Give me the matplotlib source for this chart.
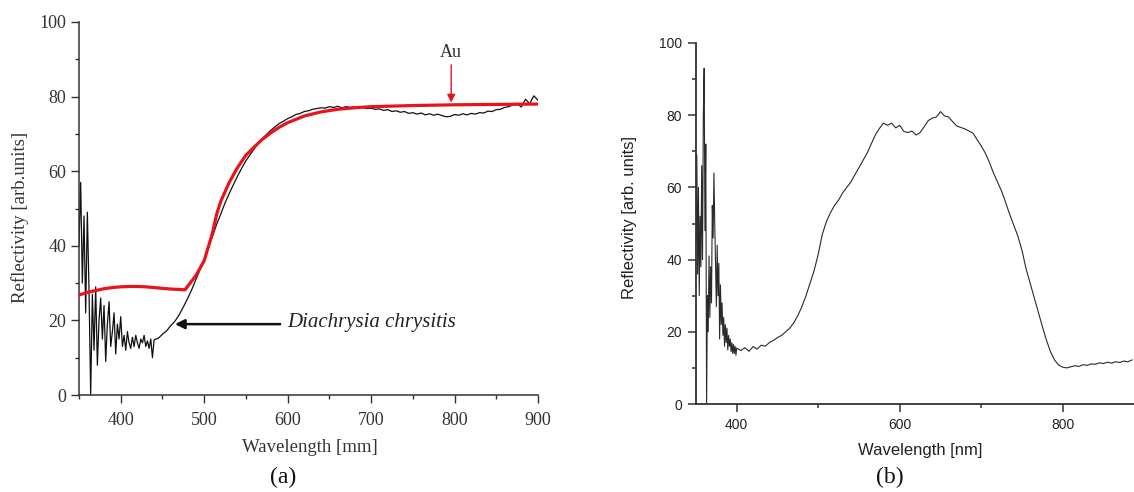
import numpy as np
import matplotlib
matplotlib.use("Agg")
import matplotlib.pyplot as plt
from matplotlib.ticker import MultipleLocator

# ---------------- panel (a): Diachrysia chrysitis wing vs. gold ----------------
wl_dc_fine = np.arange(350, 441, 2)
refl_dc_fine = [
    40, 57, 30, 48, 22, 49, 28, 0, 27, 12,
    29, 8, 20, 26, 15, 24, 9, 19, 25, 13,
    17, 22, 11, 19, 15, 21, 13, 16, 12, 17,
    14, 12.5, 15.5, 13, 16, 14, 12.5, 15, 14, 16,
    13, 14.5, 12.5, 15, 10, 14.8,
]
wl_dc_coarse = np.arange(445, 901, 5)
refl_dc_coarse = [
    15.2, 16.3, 17.2, 18.6, 19.8, 21.5, 23.6, 25.8, 28.2, 30.9,
    33.6, 36.5, 39.6, 42.5, 45.8, 48.6, 51.5, 54.0, 56.4, 58.7,
    60.8, 62.8, 64.4, 66.0, 67.5, 68.8, 69.9, 71.0, 71.9, 72.8,
    73.4, 74.1, 74.6, 75.2, 75.5, 76.0, 76.2, 76.6, 76.8, 77.0,
    76.9, 77.3, 77.1, 77.4, 77.0, 77.3, 77.1, 77.2, 76.9, 77.1,
    76.8, 76.9, 76.6, 76.7, 76.3, 76.5, 76.0, 76.2, 75.8, 76.0,
    75.5, 75.7, 75.3, 75.6, 75.1, 75.4, 75.0, 75.3, 74.9, 74.6,
    74.7, 75.2, 75.0, 75.4, 75.1, 75.5, 75.3, 75.7, 75.6, 76.1,
    76.0, 76.5, 76.6, 77.1, 77.3, 77.8, 78.2, 77.2, 79.3, 78.1,
    80.2, 79.0,
]
wl_au = [350, 360, 370, 380, 390, 400, 410, 420, 430, 440, 450, 460, 470, 477,
         490, 500, 510, 515, 520, 530, 540, 550, 560, 570, 580, 590, 600, 620,
         640, 660, 680, 700, 750, 800, 850, 900]
refl_au = [26.8, 27.5, 28.0, 28.5, 28.8, 29.0, 29.1, 29.1, 29.0, 28.8, 28.6, 28.4,
           28.3, 28.2, 32.0, 36.0, 43.5, 48.5, 52.0, 57.0, 61.0, 64.3, 66.5, 68.6,
           70.3, 71.8, 73.0, 74.8, 75.9, 76.6, 77.0, 77.3, 77.6, 77.8, 77.9, 78.0]

# ---------------- panel (b): reflectivity spectrum ----------------
wl_b_fine = np.arange(350, 401, 1)
refl_b_fine = [
    45, 69, 36, 60, 30, 52, 38, 66, 40, 80,
    93, 48, 72, 0, 30, 20, 41, 24, 38, 28,
    55, 46, 64, 50, 38, 27, 44, 30, 39, 18,
    33, 22, 28, 19, 24, 16, 22, 17, 21, 15,
    19, 16, 18, 14.5, 17, 14, 16.5, 14, 16, 13.5,
    15.5,
]
wl_b_coarse = np.arange(405, 886, 5)
refl_b_coarse = [
    14.8, 15.6, 14.6, 15.9, 15.2, 16.3, 16.0, 17.0, 17.6, 18.4,
    19.0, 20.0, 21.0, 22.5, 24.5, 27.0, 30.0, 33.5, 37.0, 41.5,
    47.0, 50.5, 53.0, 55.0, 56.5, 58.5, 60.0, 61.5, 63.5, 65.5,
    67.5, 69.5, 72.0, 74.5, 76.3, 77.8, 77.2, 77.8, 76.5, 77.2,
    75.5, 75.2, 75.6, 74.5, 75.2, 76.8, 78.5, 79.2, 79.5, 81.0,
    79.8, 79.5, 78.2, 77.0, 76.6, 76.2, 75.6, 75.0, 73.2, 71.5,
    69.5, 67.0, 64.0, 61.5, 59.0, 55.8, 52.5, 49.5, 46.5, 42.6,
    37.5, 33.5, 29.5, 25.5, 21.5, 17.7, 14.5, 12.2, 10.8, 10.2,
    10.0, 10.3, 10.6, 10.4, 10.9, 10.7, 11.1, 11.0, 11.4, 11.2,
    11.6, 11.3, 11.7, 11.5, 11.9, 11.7, 12.2,
]

SERIF = "Liberation Serif"
SANS = "Liberation Sans"

fig = plt.figure(figsize=(11.34, 4.92), dpi=100)

# ---------- panel (a) ----------
axa = fig.add_axes([79 / 1134, 97 / 492, 459 / 1134, 373 / 492])
wl_dc = np.concatenate([wl_dc_fine, wl_dc_coarse])
refl_dc = np.concatenate([refl_dc_fine, refl_dc_coarse])
axa.plot(wl_dc, refl_dc, color="#111111", lw=0.9, zorder=2)
axa.plot(wl_au, refl_au, color="#e8141c", lw=2.3, zorder=3)
axa.set_xlim(350, 900)
axa.set_ylim(0, 100)
axa.xaxis.set_major_locator(MultipleLocator(100))
axa.xaxis.set_minor_locator(MultipleLocator(50))
axa.yaxis.set_major_locator(MultipleLocator(20))
axa.yaxis.set_minor_locator(MultipleLocator(10))
for s in ("top", "right"):
    axa.spines[s].set_visible(False)
for s in ("left", "bottom"):
    axa.spines[s].set_color("#333333")
    axa.spines[s].set_linewidth(1.1)
axa.tick_params(which="major", direction="out", length=6, width=1.0,
                color="#333333", labelsize=13, labelcolor="#333333", pad=3)
axa.tick_params(which="minor", direction="out", length=3, width=1.0, color="#333333")
axa.tick_params(axis="x", which="major", pad=6)
for lab in axa.get_xticklabels() + axa.get_yticklabels():
    lab.set_fontfamily(SERIF)
axa.set_xlabel("Wavelength [mm]", fontfamily=SERIF, fontsize=13.5,
               color="#333333", va="center")
axa.xaxis.set_label_coords(0.502, -0.142)
axa.set_ylabel("Reflectivity [arb.units]", fontfamily=SERIF, fontsize=13.5,
               color="#333333", va="center")
axa.yaxis.set_label_coords(-0.128, 0.477)

axa.annotate("", xy=(796, 78.4), xytext=(796, 88.5),
             arrowprops=dict(arrowstyle="-|>", color="#e8141c", lw=1.0,
                             mutation_scale=12, shrinkA=0, shrinkB=0))
axa.text(796, 91.7, "Au", ha="center", va="center", fontfamily=SERIF,
         fontsize=13, color="#333333")
axa.annotate("", xy=(465, 19), xytext=(591, 19),
             arrowprops=dict(arrowstyle="-|>", color="#111111", lw=1.8,
                             mutation_scale=14, shrinkA=0, shrinkB=0))
axa.text(600, 19.5, "Diachrysia chrysitis", ha="left", va="center",
         fontfamily=SERIF, fontstyle="italic", fontsize=15, color="#222222")

# ---------- panel (b) ----------
axb = fig.add_axes([696 / 1134, 88 / 492, 438 / 1134, 361 / 492])
wl_b = np.concatenate([wl_b_fine, wl_b_coarse])
refl_b = np.concatenate([refl_b_fine, refl_b_coarse])
axb.plot(wl_b, refl_b, color="#2a2a2a", lw=0.8)
axb.set_xlim(350, 887.5)
axb.set_ylim(0, 100)
axb.xaxis.set_major_locator(MultipleLocator(200))
axb.xaxis.set_minor_locator(MultipleLocator(100))
axb.yaxis.set_major_locator(MultipleLocator(20))
axb.yaxis.set_minor_locator(MultipleLocator(10))
for s in ("top", "right"):
    axb.spines[s].set_visible(False)
for s in ("left", "bottom"):
    axb.spines[s].set_color("#333333")
    axb.spines[s].set_linewidth(1.3)
axb.tick_params(which="major", direction="out", length=6, width=1.1,
                color="#333333", labelsize=10, labelcolor="#222222", pad=4)
axb.tick_params(which="minor", direction="out", length=3, width=1.1, color="#333333")
for lab in axb.get_xticklabels() + axb.get_yticklabels():
    lab.set_fontfamily(SANS)
axb.set_xlabel("Wavelength [nm]", fontfamily=SANS, fontsize=12,
               color="#222222", va="center")
axb.xaxis.set_label_coords(0.511, -0.130)
axb.set_ylabel("Reflectivity [arb. units]", fontfamily=SANS, fontsize=12,
               color="#222222", va="center")
axb.yaxis.set_label_coords(-0.151, 0.517)

fig.text(283 / 1134, 1 - 477 / 492, "(a)", ha="center", va="center",
         fontfamily=SERIF, fontsize=17, color="#111111")
fig.text(890 / 1134, 1 - 477 / 492, "(b)", ha="center", va="center",
         fontfamily=SERIF, fontsize=17, color="#111111")

fig.savefig("out.png", dpi=100, facecolor="white")
